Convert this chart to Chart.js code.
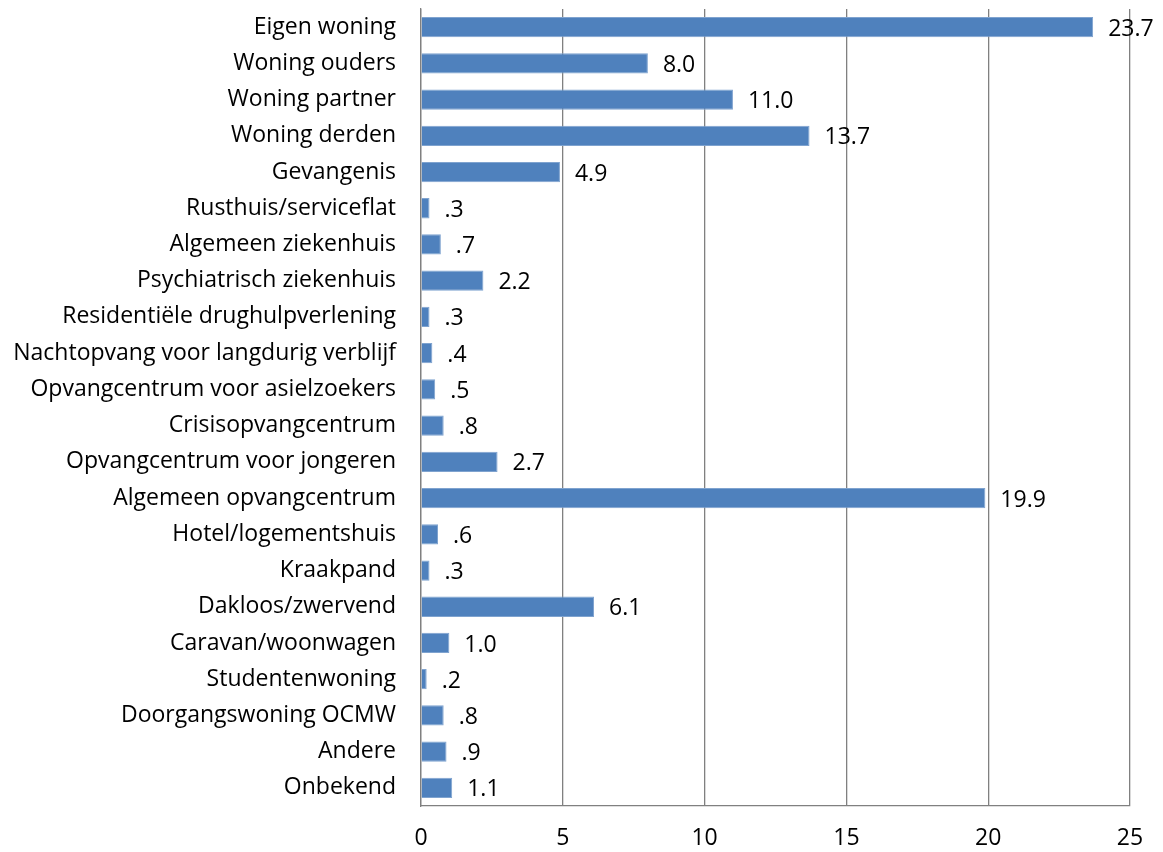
<!DOCTYPE html>
<html>
<head>
<meta charset="utf-8">
<script src="https://cdn.jsdelivr.net/npm/chart.js@4.4.0/dist/chart.umd.min.js"></script>
<style>
    html, body { margin: 0; padding: 0; background: #fff; }
    #wrap { width: 1163px; height: 852px; }
</style>
</head>
<body>
<div id="wrap"><canvas id="verblijfChart" width="1163" height="852"></canvas></div>
<script>
const categories = [
    'Eigen woning',
    'Woning ouders',
    'Woning partner',
    'Woning derden',
    'Gevangenis',
    'Rusthuis/serviceflat',
    'Algemeen ziekenhuis',
    'Psychiatrisch ziekenhuis',
    'Residentiële drughulpverlening',
    'Nachtopvang voor langdurig verblijf',
    'Opvangcentrum voor asielzoekers',
    'Crisisopvangcentrum',
    'Opvangcentrum voor jongeren',
    'Algemeen opvangcentrum',
    'Hotel/logementshuis',
    'Kraakpand',
    'Dakloos/zwervend',
    'Caravan/woonwagen',
    'Studentenwoning',
    'Doorgangswoning OCMW',
    'Andere',
    'Onbekend'
];

const percentages = [23.7, 8.0, 11.0, 13.7, 4.9, 0.3, 0.7, 2.2, 0.3, 0.4, 0.5, 0.8, 2.7, 19.9, 0.6, 0.3, 6.1, 1.0, 0.2, 0.8, 0.9, 1.1];

const xTicks = [0, 5, 10, 15, 20, 25];

const FONT = "'Open Sans', Lato, sans-serif";
const FONT_SIZE = 23;

// label like "8.0" or ".3" (no leading zero below 1)
function formatValue(v) {
    let s = v.toFixed(1);
    if (v < 1) s = s.replace(/^0/, '');
    return s;
}

const valueLabels = {
    id: 'valueLabels',
    afterDatasetsDraw(chart) {
        const ctx = chart.ctx;
        const meta = chart.getDatasetMeta(0);
        ctx.save();
        ctx.font = FONT_SIZE + 'px ' + FONT;
        ctx.fillStyle = '#000';
        ctx.textAlign = 'left';
        ctx.textBaseline = 'middle';
        meta.data.forEach((bar, i) => {
            ctx.fillText(formatValue(percentages[i]), bar.x + 15, bar.y + 2);
        });
        ctx.restore();
    }
};

const ctx = document.getElementById('verblijfChart').getContext('2d');
const verblijfChart = new Chart(ctx, {
    type: 'bar',
    data: {
        labels: categories,
        datasets: [{
            data: percentages,
            backgroundColor: '#4F81BD',
            borderColor: '#7FA3CF',
            borderWidth: 1,
            barPercentage: 0.56,
            categoryPercentage: 1.0
        }]
    },
    options: {
        indexAxis: 'y',
        responsive: false,
        animation: false,
        layout: {
            padding: { top: 9, right: 33, bottom: 0, left: 0 }
        },
        scales: {
            x: {
                min: 0,
                max: 25,
                afterBuildTicks: axis => {
                    axis.ticks = xTicks.map(v => ({ value: v }));
                },
                afterFit: axis => {
                    axis.height = 46;
                    axis.paddingLeft = 0;
                    axis.paddingRight = 0;
                },
                grid: {
                    color: '#808080',
                    lineWidth: 1.3,
                    drawTicks: false
                },
                border: { display: true, color: '#808080', width: 1.3 },
                ticks: {
                    color: '#000',
                    padding: 19,
                    font: { family: FONT, size: FONT_SIZE }
                }
            },
            y: {
                afterFit: axis => {
                    axis.width = 421;
                    axis.paddingTop = 0;
                    axis.paddingBottom = 0;
                },
                grid: { display: false, drawTicks: false },
                border: { display: true, color: '#808080', width: 1.3 },
                ticks: {
                    color: '#000',
                    padding: 25,
                    autoSkip: false,
                    font: { family: FONT, size: FONT_SIZE }
                }
            }
        },
        plugins: {
            legend: { display: false },
            tooltip: { enabled: false }
        }
    },
    plugins: [valueLabels]
});
</script>
</body>
</html>
